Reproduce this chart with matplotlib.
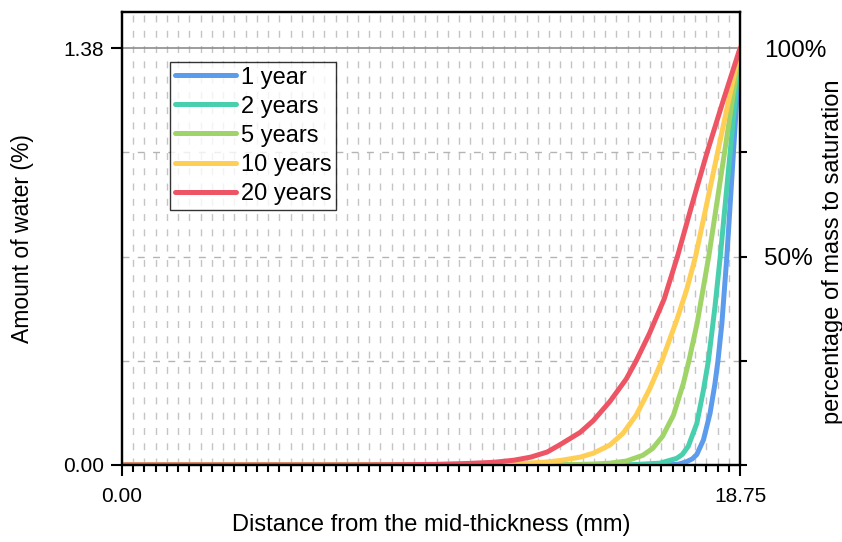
import matplotlib
matplotlib.use("Agg")
import matplotlib.pyplot as plt
import numpy as np
from matplotlib.ticker import FixedLocator

plt.rcParams['font.family'] = ['Liberation Sans', 'DejaVu Sans']

# data (distance in mm, water in %)
x_1yr = [0, 16.5, 16.9, 17.13, 17.3, 17.44, 17.64, 17.84, 17.99, 18.08, 18.2, 18.35, 18.55, 18.75]
y_1yr = [0, 0, 0.003, 0.011, 0.02, 0.035, 0.083, 0.171, 0.27, 0.345, 0.47, 0.69, 1.035, 1.38]

x_2yr = [0, 15.5, 16.32, 16.83, 17.0, 17.18, 17.44, 17.64, 17.79, 17.99, 18.15, 18.45, 18.75]
y_2yr = [0, 0.001, 0.006, 0.022, 0.035, 0.062, 0.138, 0.248, 0.345, 0.524, 0.69, 1.035, 1.38]

x_5yr = [0, 12.5, 13.5, 14.3, 14.8, 15.3, 15.8, 16.1, 16.4, 16.73, 17.03, 17.2, 17.45, 17.8, 18.28, 18.75]
y_5yr = [0, 0, 0.001, 0.003, 0.006, 0.013, 0.032, 0.055, 0.095, 0.165, 0.27, 0.345, 0.47, 0.69, 1.035, 1.38]

x_10yr = [0, 9.5, 10.5, 11.5, 12.3, 12.9, 13.3, 13.9, 14.3, 14.8, 15.2, 15.6, 16.0, 16.38, 16.83, 17.13,
          17.4, 17.75, 18.07, 18.4, 18.75]
y_10yr = [0, 0, 0.001, 0.003, 0.006, 0.01, 0.015, 0.026, 0.039, 0.066, 0.105, 0.165, 0.25, 0.345, 0.48, 0.58,
          0.69, 0.87, 1.035, 1.205, 1.38]

x_20yr = [0, 7.0, 8.5, 9.5, 10.5, 11.3, 11.9, 12.4, 12.9, 13.3, 13.9, 14.3, 14.8, 15.3, 15.6, 16.0, 16.45,
          16.85, 17.3, 17.75, 18.25, 18.75]
y_20yr = [0, 0, 0.001, 0.002, 0.005, 0.009, 0.016, 0.026, 0.043, 0.068, 0.108, 0.147, 0.21, 0.285, 0.345,
          0.435, 0.55, 0.69, 0.865, 1.035, 1.21, 1.38]

labels = ['1 year', '2 years', '5 years', '10 years', '20 years']
colors = ['#5D9CEC', '#48CFAD', '#A0D468', '#FFCE54', '#ED5565']

x_max = 18.75
y_sat = 1.38

fig = plt.figure(figsize=(8.42, 5.42), dpi=100)
ax = fig.add_axes([0.1449, 0.1421, 0.7340, 0.8358])

# grid
minor_x = np.linspace(0, x_max, 56)[1:-1]
for xv in minor_x:
    ax.axvline(xv, color='#c4c4c4', lw=1.0, dashes=(5, 6), zorder=0)
for yv in [0.25, 0.5, 0.75]:
    ax.axhline(yv * y_sat, color='#b4b4b4', lw=1.0, dashes=(5, 6), zorder=0)
ax.axhline(y_sat, color='#8c8c8c', lw=1.2, zorder=0)

xs = [x_1yr, x_2yr, x_5yr, x_10yr, x_20yr]
ys = [y_1yr, y_2yr, y_5yr, y_10yr, y_20yr]
for xx, yy, lab, c in zip(xs, ys, labels, colors):
    ax.plot(xx, yy, color=c, lw=3.6, label=lab, solid_capstyle='round',
            solid_joinstyle='round', zorder=3)

ax.set_xlim(0, x_max)
ax.set_ylim(0, 1.5)

ax.set_xticks([0, x_max])
ax.set_xticklabels(['0.00', '18.75'])
ax.xaxis.set_minor_locator(FixedLocator(minor_x))
ax.set_yticks([0, y_sat])
ax.set_yticklabels(['0.00', '1.38'])
ax.tick_params(axis='both', which='major', direction='out', length=8, width=1.5, labelsize=15)
ax.tick_params(axis='x', which='minor', direction='out', length=5, width=1.5)
ax.tick_params(axis='x', which='major', pad=8)
ax.tick_params(axis='y', which='major', pad=5)

for s in ax.spines.values():
    s.set_linewidth(1.6)
    s.set_color('black')

ax.set_xlabel('Distance from the mid-thickness (mm)', fontsize=17)
ax.xaxis.set_label_coords(0.5, -0.108)
ax.set_ylabel('Amount of water (%)', fontsize=16.5)
ax.yaxis.set_label_coords(-0.142, 0.5)

# right axis: percentage of saturation
ax2 = ax.twinx()
ax2.set_ylim(0, 1.5 / y_sat * 100)
ax2.set_yticks([0, 25, 50, 75, 100])
ax2.set_yticklabels(['', '', '50%', '', '100%'])
ax2.tick_params(axis='y', direction='out', length=5, width=1.5, labelsize=17.5, pad=12)
ax2.yaxis.get_major_ticks()[4].tick2line.set_visible(False)
ax2.set_ylabel('percentage of mass to saturation', fontsize=17)
ax2.yaxis.set_label_coords(1.132, 0.47)
for s in ax2.spines.values():
    s.set_linewidth(1.6)

leg = ax.legend(loc='upper left', bbox_to_anchor=(0.078, 0.89), fontsize=17,
                frameon=True, fancybox=False, handlelength=2.6, handletextpad=0.2,
                labelspacing=0.3, borderpad=0.2, borderaxespad=0)
leg.get_frame().set_edgecolor('black')
leg.get_frame().set_linewidth(1.0)

fig.savefig('out.png', dpi=100)
